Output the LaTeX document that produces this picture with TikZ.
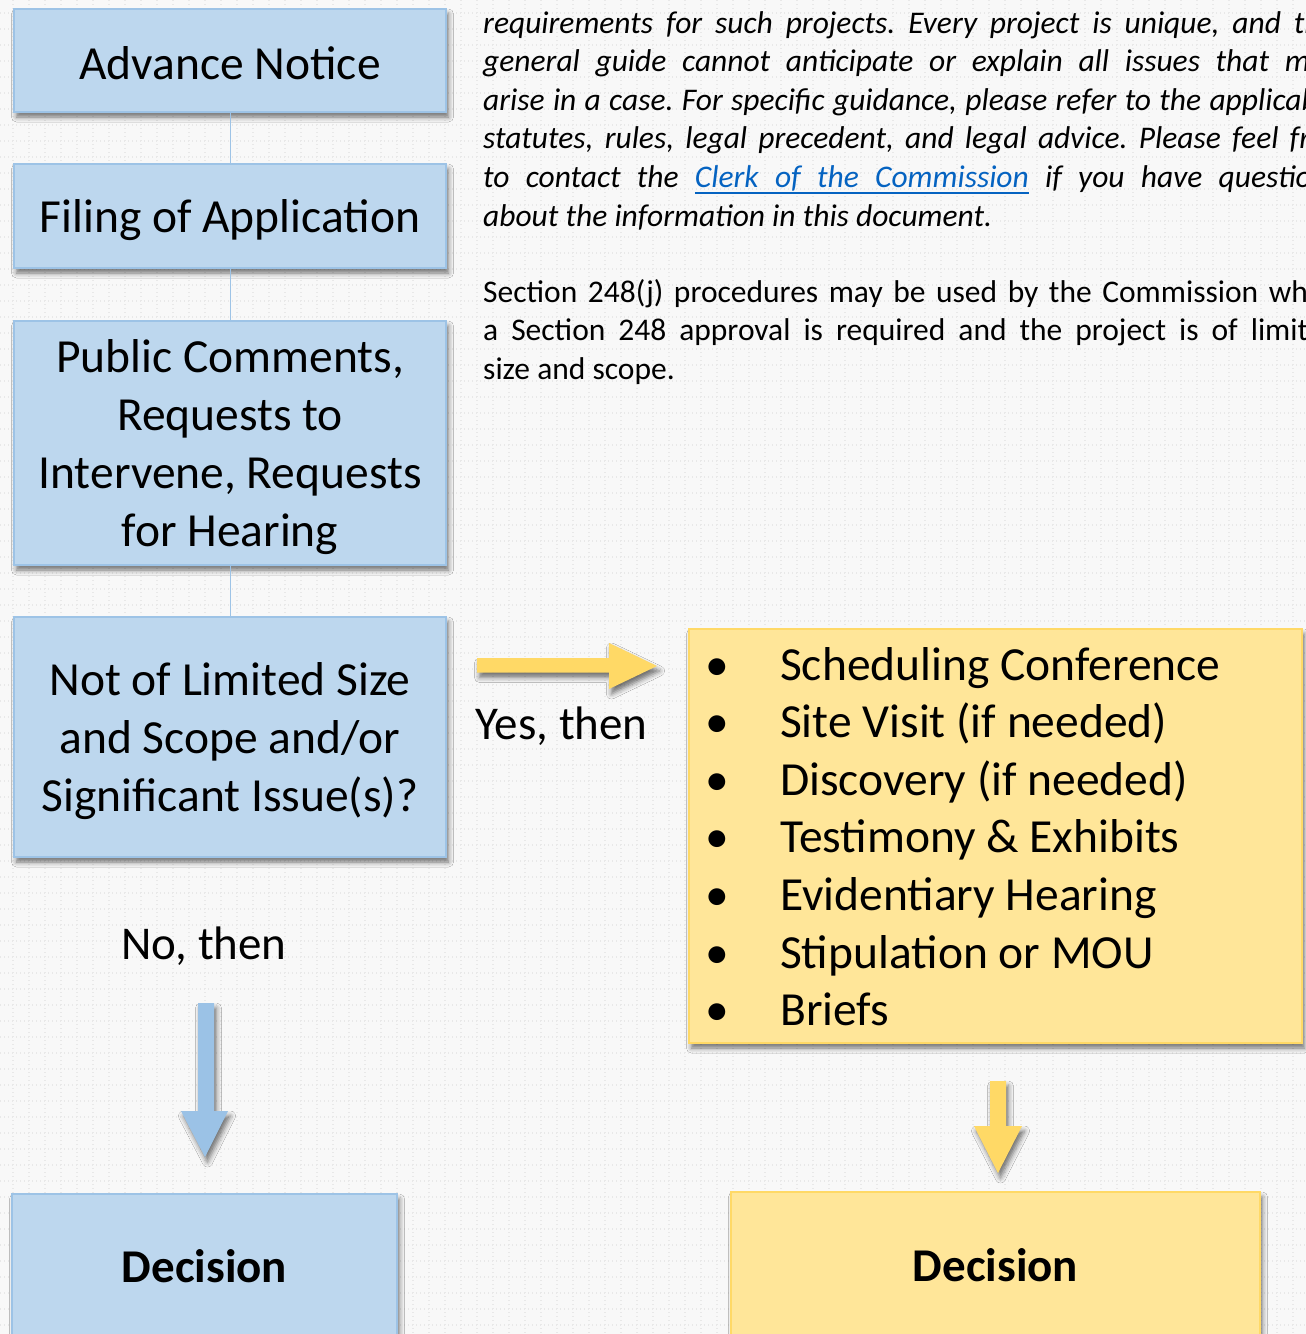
\documentclass[tikz,border=0pt]{standalone}
\usepackage{fontspec}
\setmainfont{Carlito}
\usetikzlibrary{shadows.blur}
\definecolor{bg}{HTML}{F8F8F8}
\definecolor{gridc}{HTML}{E8E8E8}
\definecolor{bluefill}{HTML}{BDD7EE}
\definecolor{blueline}{HTML}{9DC3E6}
\definecolor{bluearrow}{HTML}{9BC2E6}
\definecolor{yelfill}{HTML}{FFE699}
\definecolor{yelline}{HTML}{FFD966}
\definecolor{yelarrow}{HTML}{FFD966}
\definecolor{linkc}{HTML}{0563C1}
\newcommand\boxfont{\fontsize{47.5}{58}\selectfont}
\newcommand\listfont{\fontsize{47.5}{57.6}\selectfont}
\newcommand\parafont{\fontsize{31.5}{38.6}\selectfont}
\newcommand\mystrut{\rule{0pt}{42pt}}
\newsavebox\myulbox
\newcommand\myulw[1]{\sbox\myulbox{#1}\rlap{\rule[-6.1pt]{\wd\myulbox}{1.6pt}}\usebox\myulbox}
\newcommand\myulsp{\leaders\hrule depth 6.1pt height -4.5pt\hskip\fontdimen2\font plus\fontdimen3\font minus\fontdimen4\font\relax}
\frenchspacing
\begin{document}
\begin{tikzpicture}[x=1pt,y=-1pt,
  shd/.style={blur shadow={shadow xshift=2.5pt, shadow yshift=-5pt, shadow blur radius=5pt, shadow opacity=55}},
  bluebox/.style={draw=blueline, line width=1.5pt, fill=bluefill, shd, inner sep=0pt, align=center, font=\boxfont},
  yelbox/.style={draw=yelline, line width=1.5pt, fill=yelfill, shd, inner sep=0pt, align=center, font=\boxfont},
  conn/.style={draw=blueline, line width=1pt},
  griddot/.style={draw=gridc, line width=1.3pt, dash pattern=on 1.3pt off 2.7pt},
  lbl/.style={inner sep=0pt, font=\fontsize{47}{57}\selectfont},
  decfont/.style={font=\fontsize{47}{57}\selectfont\bfseries}
]
\useasboundingbox (0,0) rectangle (1306,1334);
\fill[bg] (0,0) rectangle (1306,1334);
\foreach \i in {13,29,...,1333} \draw[griddot] (0,\i) -- (1306,\i);
\foreach \i in {13,29,...,1305} \draw[griddot] (\i,0) -- (\i,1334);

% right-hand paragraphs
\node[anchor=base west, inner sep=0pt, font=\parafont] (para1) at (483,33)
 {\parbox[t]{857pt}{\tolerance=10000\hyphenpenalty=10000\frenchspacing\itshape
 requirements for such projects. Every project is unique, and this\linebreak
 general guide cannot anticipate or explain all issues that may\linebreak
 arise in a case. For specific guidance, please refer to the applicable\linebreak
 statutes, rules, legal precedent, and legal advice. Please feel free\linebreak
 to contact the {\color{linkc}\myulw{Clerk}\myulsp\myulw{of}\myulsp\myulw{the}\myulsp\myulw{Commission}} if you have questions\linebreak
 about the information in this document.}};
\node[anchor=base west, inner sep=0pt, font=\parafont] (para2) at (483,302)
 {\parbox[t]{857pt}{\tolerance=10000\hyphenpenalty=10000\frenchspacing
 Section 248(j) procedures may be used by the Commission when\linebreak
 a Section 248 approval is required and the project is of limited\linebreak
 size and scope.}};

% left column boxes
\node[bluebox, minimum width=432, minimum height=103] (adv) at (230,60.5) {\rule{0pt}{38pt}Advance Notice};
\node[bluebox, minimum width=432, minimum height=104] (fil) at (230,216) {\mystrut Filing of Application};
\node[bluebox, minimum width=432, minimum height=244] (pub) at (230,443) {\mystrut Public Comments,\\Requests to\\Intervene, Requests\\for Hearing};
\node[bluebox, minimum width=432, minimum height=240] (lim) at (230,737) {\mystrut Not of Limited Size\\and Scope and/or\\Significant Issue(s)?};

\draw[conn] (adv.south) -- (fil.north);
\draw[conn] (fil.south) -- (pub.north);
\draw[conn] (pub.south) -- (lim.north);

% yellow list box
\node[yelbox, minimum width=613, minimum height=414] (list) at (995.5,836) {};
\node[anchor=base west, inner sep=0pt, font=\listfont] (items) at (705.5,680)
 {\begin{tabular}[t]{@{}p{74.5pt}@{}l@{}}
 \textbullet & Scheduling Conference\\
 \textbullet & Site Visit (if needed)\\
 \textbullet & Discovery (if needed)\\
 \textbullet & Testimony \& Exhibits\\
 \textbullet & Evidentiary Hearing\\
 \textbullet & Stipulation or MOU\\
 \textbullet & Briefs
 \end{tabular}};

% labels
\node[lbl, anchor=base] (yes) at (561.5,739) {Yes, then};
\node[lbl, anchor=base] (no) at (204,959) {No, then};

% fat arrows
\fill[yelarrow, shd] (477,658) -- (609,658) -- (609,643) -- (657,666) -- (609,689) -- (609,672.5) -- (477,672.5) -- cycle;
\fill[bluearrow, shd] (198,1003) -- (214,1003) -- (214,1111) -- (228,1111) -- (205,1157) -- (181,1111) -- (198,1111) -- cycle;
\fill[yelarrow, shd] (990,1081) -- (1006,1081) -- (1006,1126) -- (1022,1126) -- (998,1173) -- (974,1126) -- (990,1126) -- cycle;

% decision boxes
\node[bluebox, minimum width=385, minimum height=144, decfont] (dec1) at (204.5,1266) {Decision};
\node[yelbox, minimum width=529, minimum height=146, decfont] (dec2) at (995.5,1265) {Decision};
\end{tikzpicture}
\end{document}
